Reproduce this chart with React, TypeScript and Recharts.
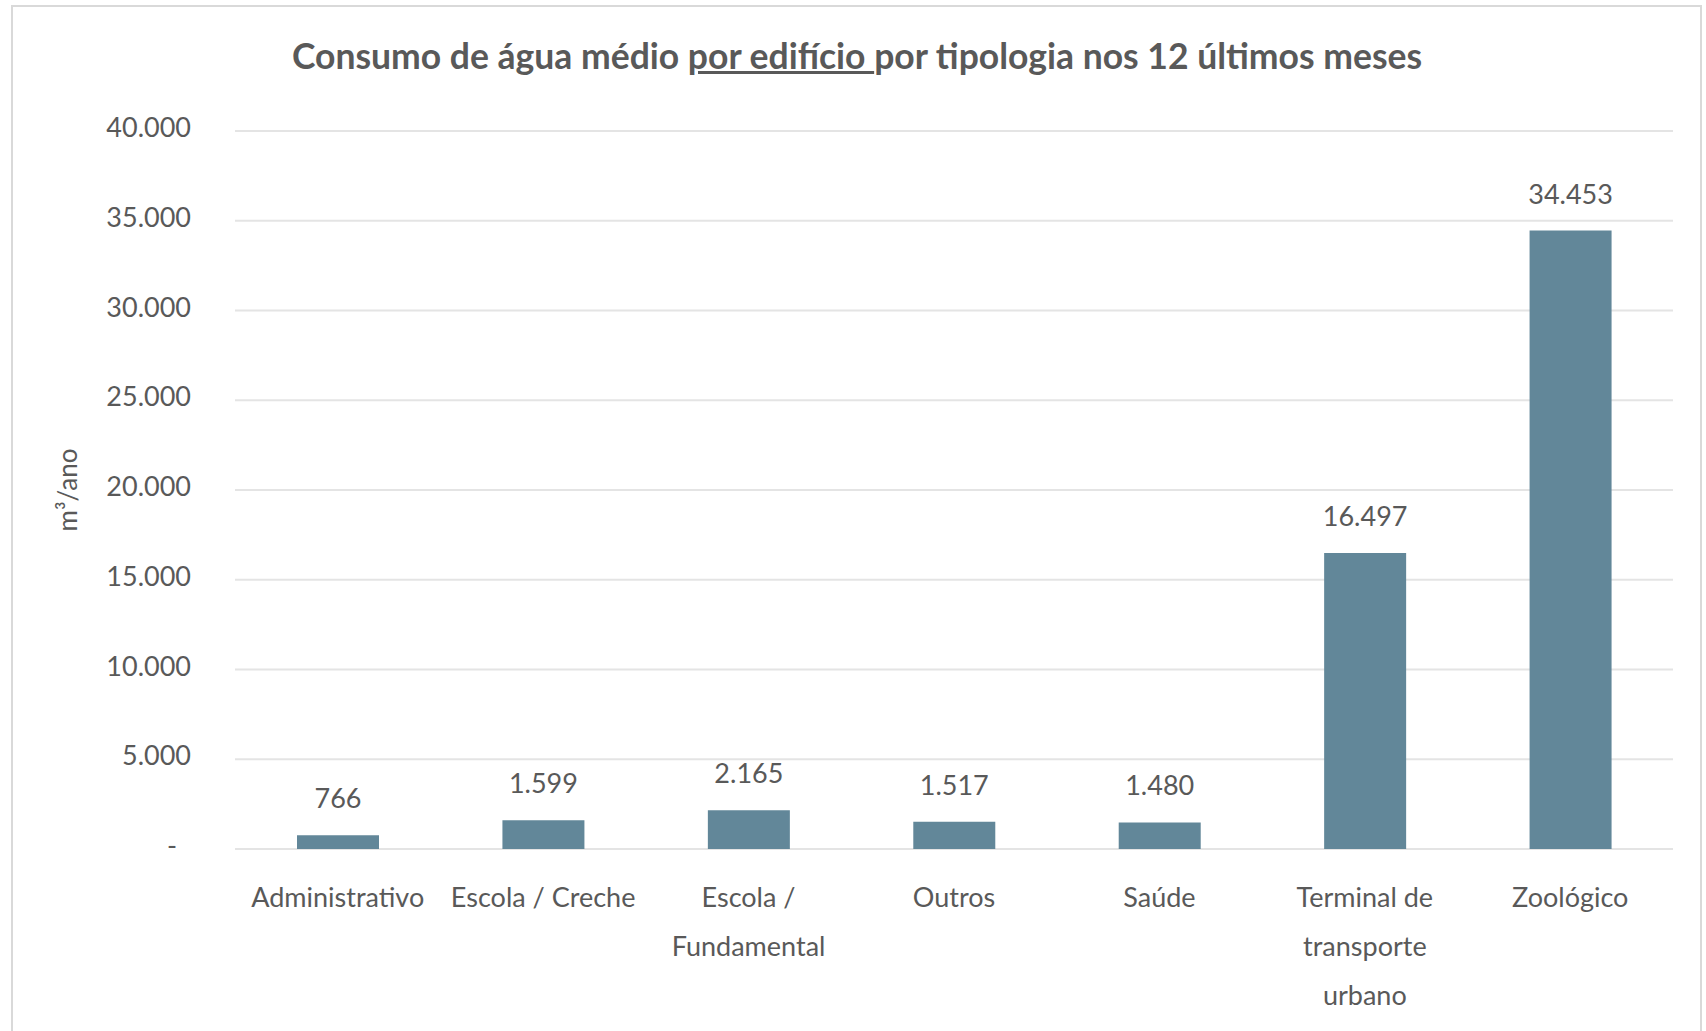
import { BarChart, Bar, XAxis, YAxis, CartesianGrid, LabelList } from 'recharts'

const categories = [
  'Administrativo',
  'Escola / Creche',
  'Escola / Fundamental',
  'Outros',
  'Saúde',
  'Terminal de transporte urbano',
  'Zoológico',
]
// how each category label is broken into lines under the axis
const tickLines = [
  ['Administrativo'],
  ['Escola / Creche'],
  ['Escola /', 'Fundamental'],
  ['Outros'],
  ['Saúde'],
  ['Terminal de', 'transporte', 'urbano'],
  ['Zoológico'],
]
const consumo = [766, 1599, 2165, 1517, 1480, 16497, 34453]
const yTicks = [0, 5000, 10000, 15000, 20000, 25000, 30000, 35000, 40000]

const TEXT = '#595959'
const FONT = 'Lato, "Noto Sans", sans-serif'

const fmt = (v: number) =>
  v === 0 ? '-' : String(v).replace(/\B(?=(\d{3})+(?!\d))/g, '.')

const data = categories.map((name, i) => ({ name, value: consumo[i] }))

function CategoryTick({ x, y, index }: any) {
  const lines = tickLines[index] ?? []
  return (
    <g>
      {lines.map((line, i) => (
        <text
          key={i}
          x={x}
          y={y + 58 + i * 49}
          textAnchor="middle"
          fill={TEXT}
          fontSize={27}
          fontFamily={FONT}
        >
          {line}
        </text>
      ))}
    </g>
  )
}

function ValueTick({ x, y, payload }: any) {
  // excel-style accounting zero "-" sits a bit further left
  const shift = payload.value === 0 ? 14 : 0
  return (
    <text
      x={x - shift}
      y={y}
      dy={6}
      textAnchor="end"
      fill={TEXT}
      fontSize={27}
      fontFamily={FONT}
    >
      {fmt(payload.value)}
    </text>
  )
}

function UnitLabel({ viewBox }: any) {
  const cy = viewBox.y + viewBox.height / 2
  const cx = 77
  return (
    <text
      x={cx}
      y={cy}
      transform={`rotate(-90 ${cx} ${cy})`}
      textAnchor="middle"
      fill={TEXT}
      fontSize={26}
      fontFamily={FONT}
    >
      m³/ano
    </text>
  )
}

export default function App() {
  return (
    <div style={{ position: 'absolute', left: 0, top: 0, width: 1706, height: 1031, background: '#fff' }}>
      <div
        style={{
          position: 'absolute',
          left: 11,
          top: 5,
          width: 1691,
          height: 1040,
          border: '2px solid #d9d9d9',
          boxSizing: 'border-box',
        }}
      />
      <div
        style={{
          position: 'absolute',
          left: 0,
          top: 34,
          width: 1714,
          textAlign: 'center',
          fontFamily: FONT,
          fontWeight: 700,
          fontSize: 35.5,
          color: TEXT,
          whiteSpace: 'pre',
        }}
      >
        Consumo de água médio <span style={{ textDecoration: 'underline' }}>por edifício </span>por tipologia nos 12 últimos meses
      </div>
      <div style={{ position: 'absolute', left: 0, top: 0 }}>
        <BarChart
          width={1706}
          height={1031}
          data={data}
          margin={{ top: 131, right: 33, bottom: 32, left: 0 }}
        >
          <CartesianGrid vertical={false} stroke="#e4e4e4" strokeWidth={2} />
          <XAxis
            dataKey="name"
            axisLine={false}
            tickLine={false}
            tickSize={0}
            tickMargin={0}
            height={150}
            interval={0}
            tick={<CategoryTick />}
          />
          <YAxis
            width={235}
            domain={[0, 40000]}
            ticks={yTicks}
            interval={0}
            axisLine={false}
            tickLine={false}
            tickSize={0}
            tickMargin={44}
            tick={<ValueTick />}
            label={{ content: <UnitLabel /> }}
          />
          <Bar dataKey="value" fill="#628799" barSize={82} isAnimationActive={false}>
            <LabelList
              dataKey="value"
              position="top"
              offset={27}
              formatter={(v: any) => fmt(Number(v))}
              fill={TEXT}
              fontSize={27}
              fontFamily={FONT}
            />
          </Bar>
        </BarChart>
      </div>
    </div>
  )
}
